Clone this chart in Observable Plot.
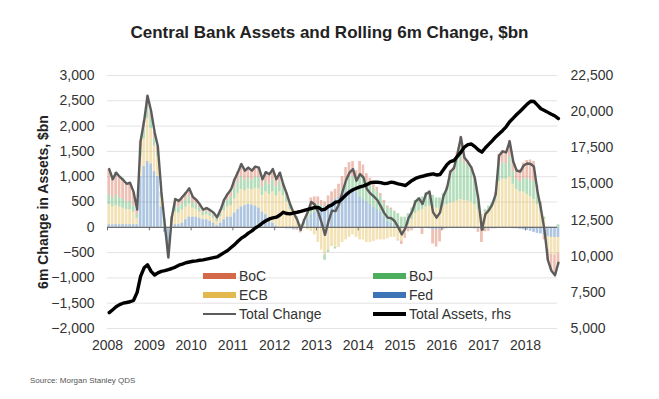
<!DOCTYPE html>
<html><head><meta charset="utf-8">
<script src="https://cdn.jsdelivr.net/npm/d3@7"></script>
<script src="https://cdn.jsdelivr.net/npm/@observablehq/plot@0.6"></script>
<style>
body{margin:0;background:#fff;font-family:"Liberation Sans",Arial,sans-serif;}
#wrap{position:relative;width:659px;height:399px;overflow:hidden;background:#fff;}
#chart{position:absolute;left:0;top:0;}
#title{position:absolute;left:0;width:659px;top:23px;text-align:center;font-weight:bold;font-size:17px;color:#222;line-height:20px;z-index:2;}
#ylab{position:absolute;left:-57px;top:192px;width:200px;text-align:center;font-weight:bold;font-size:14px;line-height:20px;color:#222;transform:rotate(-90deg);z-index:2;}
#src{position:absolute;left:30px;top:376px;font-size:8px;color:#555;z-index:2;}
.sw{position:absolute;z-index:2;}
.lt{position:absolute;font-size:14px;line-height:16px;color:#333;z-index:2;white-space:nowrap;}
</style></head>
<body><div id="wrap">
<div id="chart"></div>
<div id="title">Central Bank Assets and Rolling 6m Change, $bn</div>
<div id="ylab">6m Change in Assets, $bn</div>
<div id="legend"></div>
<div id="src">Source: Morgan Stanley QDS</div>
</div>
<script>
// Monthly series, Jan 2008 .. Oct 2018
const series = ["BoC", "ECB", "BoJ", "Fed"];
const seriesColors = ["#d4694a", "#e3b94e", "#4caf5e", "#3d74b5"];
const stackOrder = ["Fed", "ECB", "BoJ", "BoC"];

const total = [
 1150,950,1080,1000,940,860,880,700,350,1700,2100,2600,
 2300,1880,1600,700,50,-600,200,560,520,600,680,770,
 600,540,460,350,380,340,290,200,350,540,660,750,
 950,1100,1250,1120,1180,1120,1200,1180,950,1090,1050,1150,
 950,1080,850,660,450,280,150,-50,150,300,500,450,
 300,80,-150,120,330,320,450,700,930,1080,1150,920,
 1050,980,760,670,610,540,420,280,190,180,120,0,
 -140,-20,180,310,510,570,460,660,700,300,190,290,
 620,780,1100,1170,1450,1780,1380,1290,1180,970,550,-50,
 260,340,450,650,1420,1500,1480,1700,1300,1120,1100,1220,
 1260,1250,1200,710,370,-50,-650,-860,-950,-700];

const fed = [
 50,50,50,50,50,50,50,50,50,1000,1200,1300,
 1250,1100,1000,400,-100,-500,0,50,50,80,150,200,
 200,200,180,150,150,120,80,30,80,150,200,200,
 280,350,400,430,450,440,420,380,300,250,150,80,
 20,0,-20,-30,-30,-50,-30,-60,0,150,250,300,
 350,380,400,450,500,550,600,650,700,750,750,700,
 600,550,500,450,400,350,300,200,120,80,30,0,
 -20,-20,-30,-30,-20,-20,-30,-20,-30,-50,-50,-40,
 -30,-30,-20,-20,-20,-20,-20,-20,-20,-30,-30,-40,
 -30,-30,-30,-30,-20,-20,-20,-20,-30,-30,-40,-50,
 -60,-80,-100,-120,-130,-150,-180,-200,-200,-200];

const ecb = [
 400,350,380,350,330,300,300,250,130,400,550,850,
 700,500,400,200,100,-100,100,250,230,260,250,260,
 180,150,120,80,100,100,100,80,130,180,200,230,
 280,320,350,290,310,300,350,380,330,450,500,620,
 600,700,620,500,350,250,150,20,50,-50,-80,-150,
 -300,-450,-550,-450,-350,-400,-400,-300,-250,-200,-150,-200,
 -250,-250,-300,-300,-280,-250,-250,-250,-230,-200,-200,-250,
 -250,-100,50,150,280,320,350,400,420,400,380,380,
 420,450,480,500,520,550,530,520,500,450,350,250,
 300,350,400,500,900,950,950,1000,850,750,700,700,
 650,600,550,450,300,150,-250,-330,-350,-300];

const boj = [
 200,170,200,180,170,150,160,120,70,150,200,250,
 200,150,100,50,30,0,50,130,120,130,140,150,
 110,100,80,60,70,60,60,50,80,120,140,160,
 200,220,250,200,210,190,220,220,170,200,200,230,
 180,200,150,120,100,80,60,40,80,100,150,120,
 100,50,-100,-50,-20,-30,0,100,200,250,250,200,
 450,450,400,400,380,350,300,280,260,270,270,270,
 200,200,220,230,250,270,250,280,300,230,200,200,
 250,330,550,600,800,1000,750,700,630,500,300,0,
 50,70,80,130,300,320,300,400,250,200,200,250,
 320,330,350,230,150,50,0,0,0,50];

const boc = [
 500,380,450,420,390,360,370,280,100,150,150,200,
 150,130,100,50,20,0,50,130,120,130,140,160,
 110,90,80,60,60,60,50,40,60,90,120,160,
 190,210,250,200,210,190,210,200,150,190,200,220,
 150,180,100,70,30,0,-30,-50,20,100,180,180,
 150,100,100,170,200,200,250,250,280,280,300,220,
 250,230,160,120,110,90,70,50,40,30,20,-20,
 -70,-100,-60,-40,0,0,-110,0,10,-280,-340,-250,
 -20,30,90,90,150,250,120,90,70,50,-70,-260,
 -60,-50,0,50,240,250,250,320,230,200,240,320,
 350,400,400,150,50,-100,-220,-330,-400,-250];

const assets = [
 6100,6300,6500,6650,6750,6800,6850,6950,7500,8600,9200,9400,
 8950,8700,8850,8950,9000,9080,9150,9250,9380,9450,9550,9600,
 9650,9680,9720,9750,9800,9850,9900,9950,10100,10250,10400,10600,
 10800,11050,11250,11400,11600,11750,11950,12100,12300,12450,12580,12650,
 12700,12850,13040,12950,12930,13000,13040,13100,13170,13240,13300,13370,
 13380,13200,13250,13450,13550,13740,13780,14000,14250,14450,14600,14700,
 14800,14870,14950,15080,15120,15120,15090,15020,15050,15120,15080,15010,
 14950,14890,15050,15240,15380,15470,15530,15600,15650,15700,15620,15650,
 16000,16350,16550,16620,16900,17200,17550,17720,17760,17580,17350,17200,
 17500,17750,17980,18250,18470,18700,18950,19300,19550,19800,20030,20270,
 20520,20720,20700,20450,20200,20080,19950,19820,19700,19520];

const leftTicks = [-2000,-1500,-1000,-500,0,500,1000,1500,2000,2500,3000];
const rightTicks = [5000,7500,10000,12500,15000,17500,20000,22500];
const yearLabels = [2008,2009,2010,2011,2012,2013,2014,2015,2016,2017,2018];

// ---- build tables ----
const start = new Date(Date.UTC(2008,0,1));
const dates = d3.utcMonth.range(start, d3.utcMonth.offset(start, total.length));
const comp = {BoC: boc, ECB: ecb, BoJ: boj, Fed: fed};
const long = [];
series.forEach(s => comp[s].forEach((v,j) => long.push({date: dates[j], series: s, value: v})));
const rows = dates.map((d,j) => ({date: d, mid: d3.utcDay.offset(d, 15), total: total[j], assets: assets[j]}));
const toL = r => (r - 5000) / 3.5 - 2000;   // right axis -> left axis units
const yearDates = yearLabels.map(y => new Date(Date.UTC(y,0,1)));
const fmt = d3.format(",");
const FONT = '"Liberation Sans", Arial, sans-serif';

const chart = Plot.plot({
  width: 659, height: 399,
  marginTop: 75, marginBottom: 71, marginLeft: 107, marginRight: 102,
  style: {fontFamily: FONT, fontSize: "14px", color: "#333", background: "transparent"},
  x: {type: "utc", domain: [start, new Date(Date.UTC(2018,9,8))], ticks: yearDates,
      tickFormat: d3.utcFormat("%Y"), tickSize: 0, tickPadding: 12, label: null},
  y: {domain: [-2000, 3000], ticks: leftTicks, tickFormat: fmt, tickSize: 0, tickPadding: 13, label: null},
  color: {domain: series, range: seriesColors},
  marks: [
    Plot.ruleY(leftTicks, {stroke: "#e3e3e3", strokeWidth: 1}),
    Plot.rectY(long, {x: "date", interval: d3.utcMonth, y: "value", fill: "series",
      fillOpacity: 0.42, order: stackOrder, insetLeft: 0.4, insetRight: 0.4}),
    Plot.ruleY([0], {stroke: "#6e6e6e", strokeWidth: 1.2}),
    Plot.ruleX(yearDates, {y1: 0, y2: -70, stroke: "#6e6e6e"}),
    Plot.line(rows, {x: "mid", y: "total", stroke: "#5c5c5c", strokeWidth: 2.4, curve: "linear"}),
    Plot.line(rows, {x: "mid", y: d => toL(d.assets), stroke: "#000", strokeWidth: 3.4}),
    Plot.text(rightTicks, {frameAnchor: "right", y: toL, text: d => fmt(d), dx: 13,
      textAnchor: "start", fontSize: 14, fill: "#333"})
  ]
});
document.getElementById("chart").appendChild(chart);

// ---- legend (HTML) ----
const legendItems = [
  {label: "BoC", color: seriesColors[0], kind: "bar", x: 203, y: 276},
  {label: "ECB", color: seriesColors[1], kind: "bar", x: 203, y: 295},
  {label: "Total Change", color: "#5c5c5c", kind: "line", w: 2.2, x: 203, y: 314},
  {label: "BoJ", color: seriesColors[2], kind: "bar", x: 373, y: 276},
  {label: "Fed", color: seriesColors[3], kind: "bar", x: 373, y: 295},
  {label: "Total Assets, rhs", color: "#000", kind: "line", w: 3.2, x: 373, y: 314}
];
const lg = document.getElementById("legend");
legendItems.forEach(it => {
  const h = it.kind === "bar" ? 6 : it.w;
  const sw = document.createElement("div");
  sw.className = "sw";
  sw.style.cssText = `left:${it.x}px;top:${it.y - h/2}px;width:33px;height:${h}px;background:${it.color};`;
  lg.appendChild(sw);
  const t = document.createElement("div");
  t.className = "lt";
  t.style.left = (it.x + 36) + "px";
  t.style.top = (it.y - 8) + "px";
  t.textContent = it.label;
  lg.appendChild(t);
});
</script>
</body></html>
